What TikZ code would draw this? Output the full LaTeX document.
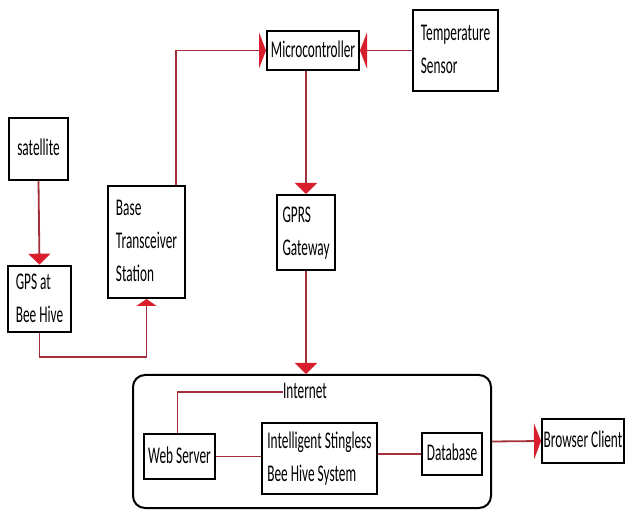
\documentclass[tikz,border=0pt]{standalone}
\usepackage{fontspec}
\setmainfont{Carlito}
\usepackage{graphicx}
\usetikzlibrary{arrows.meta}
\definecolor{linered}{HTML}{A3303B}
\definecolor{tipred}{HTML}{D81E2C}
\newcommand{\tall}[1]{\scalebox{1}[1.8]{\begin{tabular}{@{}l@{}}#1\end{tabular}}}
\tikzset{
  box/.style={draw, line width=2pt, inner sep=0pt, font=\fontsize{13.3}{18.5}\selectfont},
  link/.style={draw=linered, line width=1.8pt},
  vtip/.style={-{Triangle[length=11pt,width=22pt,color=tipred]}},
  htip/.style={-{Triangle[length=7pt,width=36pt,color=tipred]}},
}
\begin{document}
\begin{tikzpicture}[x=1pt, y=-1pt]
  \useasboundingbox[fill=white] (0,0) rectangle (632,510);
  % Boxes on the left
  \node[box, minimum width=59pt, minimum height=62pt] (sat) at (38.5,149) {\tall{satellite}};
  \node[box, minimum width=63pt, minimum height=62pt] (gps) at (39.5,299) {\tall{GPS at\\Bee Hive}};
  \node[box, minimum width=77pt, minimum height=112pt] (bts) at (146.5,242) {\tall{Base\\Transceiver\\Station}};
  % Boxes on the top
  \node[box, minimum width=92pt, minimum height=39pt] (mcu) at (313,50.5) {\tall{Microcontroller}};
  \node[box, minimum width=85pt, minimum height=81pt] (temp) at (455.5,50.5) {\tall{Temperature\\Sensor}};
  \node[box, minimum width=58pt, minimum height=75pt] (gprs) at (306,232.5) {\tall{GPRS\\Gateway}};
  % Internet block
  \node[box, rounded corners=12pt, minimum width=358pt, minimum height=133pt] (net) at (312,441.5) {};
  \node[font=\fontsize{13.3}{18.5}\selectfont, inner sep=0pt] (inet) at (305,392) {\tall{Internet}};
  \node[box, minimum width=71pt, minimum height=45pt] (web) at (179.5,456.5) {\tall{Web Server}};
  \node[box, minimum width=115pt, minimum height=71pt] (isb) at (319.5,458.5) {\tall{Intelligent Stingless\\Bee Hive System}};
  \node[box, minimum width=60pt, minimum height=42pt] (db) at (452,454) {\tall{Database}};
  \node[box, minimum width=82pt, minimum height=44pt] (browser) at (583,441) {\tall{Browser Client}};
  % Connectors
  \draw[link, vtip] (sat.south) -- (gps.north);
  \draw[link, -{Triangle[length=7pt,width=20pt,color=tipred]}] (gps.south) -- ++(0,24) -| (bts.south);
  \draw[link, htip] ([xshift=-10pt]bts.north east) |- (mcu.west);
  \draw[link, htip] (temp.west) -- (mcu.east);
  \draw[link, vtip] (gprs.north |- mcu.south) -- (gprs.north);
  \draw[link, vtip] (gprs.south) -- (gprs.south |- net.north);
  \draw[link] (inet.west) -| ([xshift=-2pt]web.north);
  \draw[link] (web.east) -- (web.east -| isb.west);
  \draw[link] (db.west -| isb.east) -- (db.west);
  \draw[link, htip] (net.east) -- (browser.west);
\end{tikzpicture}
\end{document}
